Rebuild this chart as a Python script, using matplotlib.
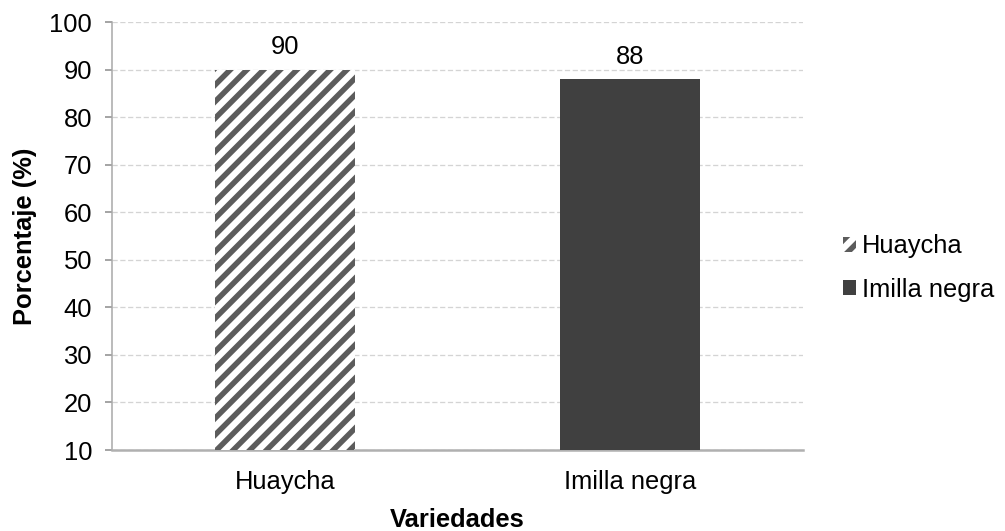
import matplotlib
matplotlib.use("Agg")
import matplotlib.pyplot as plt

# Germination percentage by variety
categories = ["Huaycha", "Imilla negra"]
values = [90, 88]
y_ticks = [10, 20, 30, 40, 50, 60, 70, 80, 90, 100]

DPI = 100
plt.rcParams["font.family"] = ["Liberation Sans", "DejaVu Sans"]

def px(p):
    return p * 72.0 / DPI

plt.rcParams["hatch.linewidth"] = px(5.5)

fig = plt.figure(figsize=(1005 / DPI, 531 / DPI), dpi=DPI)
ax = fig.add_axes([112 / 1005, 1 - 450 / 531, (803 - 112) / 1005, (450 - 22) / 531])

fs = px(25.5)
styles = [
    dict(facecolor="white", edgecolor="#5c5c5c", linewidth=0, hatch="//"),
    dict(facecolor="#404040", edgecolor="#404040", linewidth=0),
]
for i, (cat, val) in enumerate(zip(categories, values)):
    ax.bar(i, val - 10, bottom=10, width=0.405, label=cat, zorder=3, **styles[i])
    ax.text(i, val + 2.2, f"{val}", ha="center", va="bottom", fontsize=fs, color="black")

ax.set_xlim(-0.5, 1.5)
ax.set_ylim(10, 100)
ax.set_yticks(y_ticks)
ax.set_xticks(range(len(categories)))
ax.set_xticklabels(categories, fontsize=fs)
ax.tick_params(axis="x", length=0, pad=px(20))
ax.tick_params(axis="y", labelsize=fs, length=px(7), width=px(2), color="#a6a6a6", pad=px(13))

ax.grid(axis="y", color="#d4d4d4", linestyle=(0, (4, 2)), linewidth=px(1.3), zorder=0)
for s in ["top", "right"]:
    ax.spines[s].set_visible(False)
ax.spines["left"].set_color("#a6a6a6")
ax.spines["left"].set_linewidth(px(1.5))
ax.spines["bottom"].set_color("#b0b0b0")
ax.spines["bottom"].set_linewidth(px(2.5))

ax.set_ylabel("Porcentaje (%)", fontsize=fs, fontweight="bold", labelpad=px(12))
ax.set_xlabel("Variedades", fontsize=fs, fontweight="bold", labelpad=px(14))

fig.legend(
    loc="center left", bbox_to_anchor=(843 / 1005, 1 - 268 / 531),
    frameon=False, fontsize=fs, handlelength=0.5, handleheight=0.5,
    handletextpad=0.25, labelspacing=0.75, borderaxespad=0, borderpad=0,
)

fig.savefig("out.png", dpi=DPI)
